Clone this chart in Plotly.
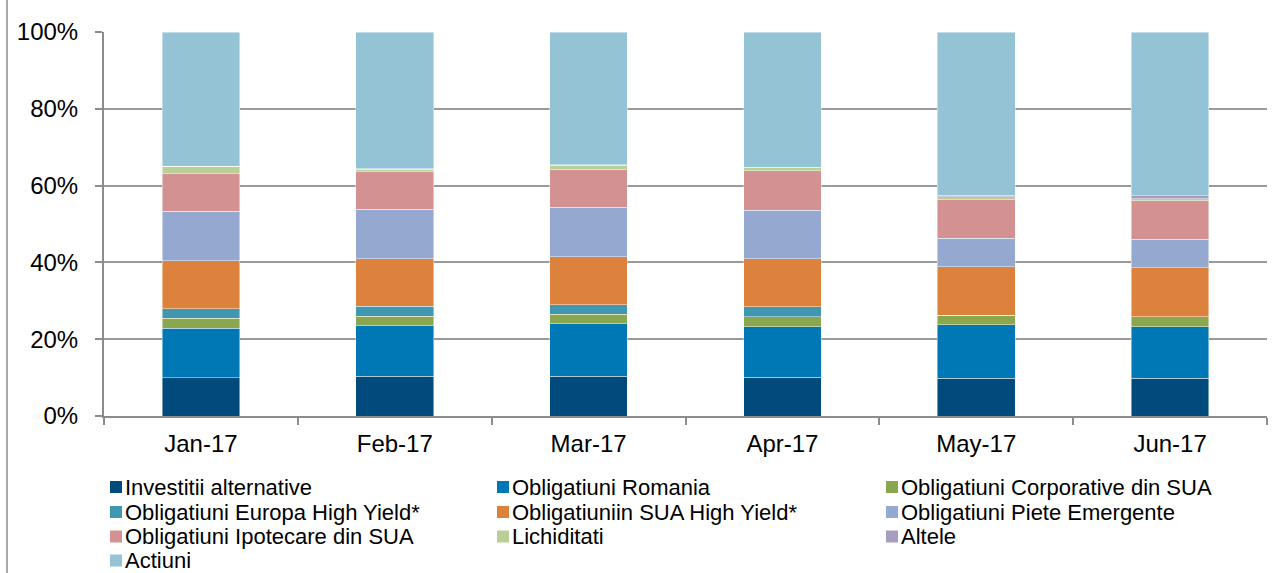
import plotly.graph_objects as go

months = ["Jan-17", "Feb-17", "Mar-17", "Apr-17", "May-17", "Jun-17"]

investitii_alternative = [10.0, 10.3, 10.3, 10.1, 9.8, 9.8]
obligatiuni_romania = [12.9, 13.2, 13.7, 13.2, 14.0, 13.5]
obligatiuni_corporative_sua = [2.5, 2.5, 2.5, 2.6, 2.4, 2.6]
obligatiuni_europa_hy = [2.5, 2.6, 2.5, 2.6, 0.0, 0.0]
obligatiuni_sua_hy = [12.5, 12.4, 12.5, 12.5, 12.7, 12.7]
obligatiuni_piete_emergente = [12.9, 12.8, 12.8, 12.6, 7.4, 7.4]
obligatiuni_ipotecare_sua = [9.8, 9.8, 9.9, 10.3, 10.0, 10.1]
lichiditati = [1.9, 0.7, 1.1, 0.8, 0.8, 0.5]
altele = [0.1, 0.1, 0.1, 0.1, 0.4, 0.8]
actiuni = [34.9, 35.6, 34.6, 35.2, 42.5, 42.6]

series_names = [
    "Investitii alternative",
    "Obligatiuni Romania",
    "Obligatiuni Corporative din SUA",
    "Obligatiuni Europa High Yield*",
    "Obligatiuniin SUA High Yield*",
    "Obligatiuni Piete Emergente",
    "Obligatiuni Ipotecare din SUA",
    "Lichiditati",
    "Altele",
    "Actiuni",
]
series_values = [
    investitii_alternative,
    obligatiuni_romania,
    obligatiuni_corporative_sua,
    obligatiuni_europa_hy,
    obligatiuni_sua_hy,
    obligatiuni_piete_emergente,
    obligatiuni_ipotecare_sua,
    lichiditati,
    altele,
    actiuni,
]
series_colors = [
    "#004b7c", "#0078b5", "#8aa64e", "#4097b0", "#dd823c",
    "#94a8d0", "#d39191", "#b8cf97", "#a89cc0", "#93c3d5",
]

y_tick_values = [0, 20, 40, 60, 80, 100]
y_tick_labels = ["0%", "20%", "40%", "60%", "80%", "100%"]

FONT = "Liberation Sans, Arial, sans-serif"
W, H = 1284, 573
L, R, T, B = 104, 17, 32, 157
PW, PH = W - L - R, H - T - B


def px2x(px):
    return (px - L) / PW


def py2y(py):
    return (H - B - py) / PH


fig = go.Figure()
for name, vals, col in zip(series_names, series_values, series_colors):
    fig.add_trace(go.Bar(
        x=months, y=vals, name=name, showlegend=False,
        marker=dict(color=col, line=dict(color="rgba(255,255,255,0.55)", width=0.8)),
    ))

# custom legend (3 columns, row-major)
col_x = [110, 497, 886]
row_y = [487, 512, 536.5, 560.5]
shapes = []
annotations = []
for i, (name, col) in enumerate(zip(series_names, series_colors)):
    c, r = i % 3, i // 3
    mx, my = col_x[c], row_y[r]
    shapes.append(dict(
        type="rect", xref="paper", yref="paper",
        x0=px2x(mx), x1=px2x(mx + 12), y0=py2y(my + 6), y1=py2y(my - 6),
        fillcolor=col, line=dict(width=0),
    ))
    annotations.append(dict(
        xref="paper", yref="paper", x=px2x(mx + 14), y=py2y(my),
        xanchor="left", yanchor="middle", text=name, showarrow=False,
        borderpad=0,
        font=dict(family=FONT, size=22, color="#000000"),
    ))

# outer frame left edge
shapes.append(dict(
    type="line", xref="paper", yref="paper",
    x0=px2x(7), x1=px2x(7), y0=py2y(0), y1=py2y(H),
    line=dict(color="#8c8c8c", width=1.5),
))

fig.update_layout(
    width=W, height=H,
    barmode="stack", bargap=0.6,
    margin=dict(l=L, r=R, t=T, b=B),
    paper_bgcolor="white", plot_bgcolor="white",
    font=dict(family=FONT, size=24, color="#000000"),
    shapes=shapes, annotations=annotations,
    xaxis=dict(
        showline=True, linecolor="#8c8c8c", linewidth=2,
        ticks="outside", tickson="boundaries", ticklen=7, tickcolor="#8c8c8c", tickwidth=2,
        showgrid=False, ticklabelstandoff=5,
        tickfont=dict(family=FONT, size=24, color="#000000"),
    ),
    yaxis=dict(
        range=[0, 100], tickvals=y_tick_values, ticktext=y_tick_labels,
        showline=True, linecolor="#8c8c8c", linewidth=2,
        ticks="outside", ticklen=7, tickcolor="#8c8c8c", tickwidth=2,
        showgrid=True, gridcolor="#9a9a9a", gridwidth=1.6,
        zeroline=False, ticklabelstandoff=12,
        tickfont=dict(family=FONT, size=24, color="#000000"),
    ),
)

fig.write_html(
    "out.html",
    config={"displayModeBar": False},
    post_script="document.body.style.margin='0';document.body.style.overflow='hidden';",
)
